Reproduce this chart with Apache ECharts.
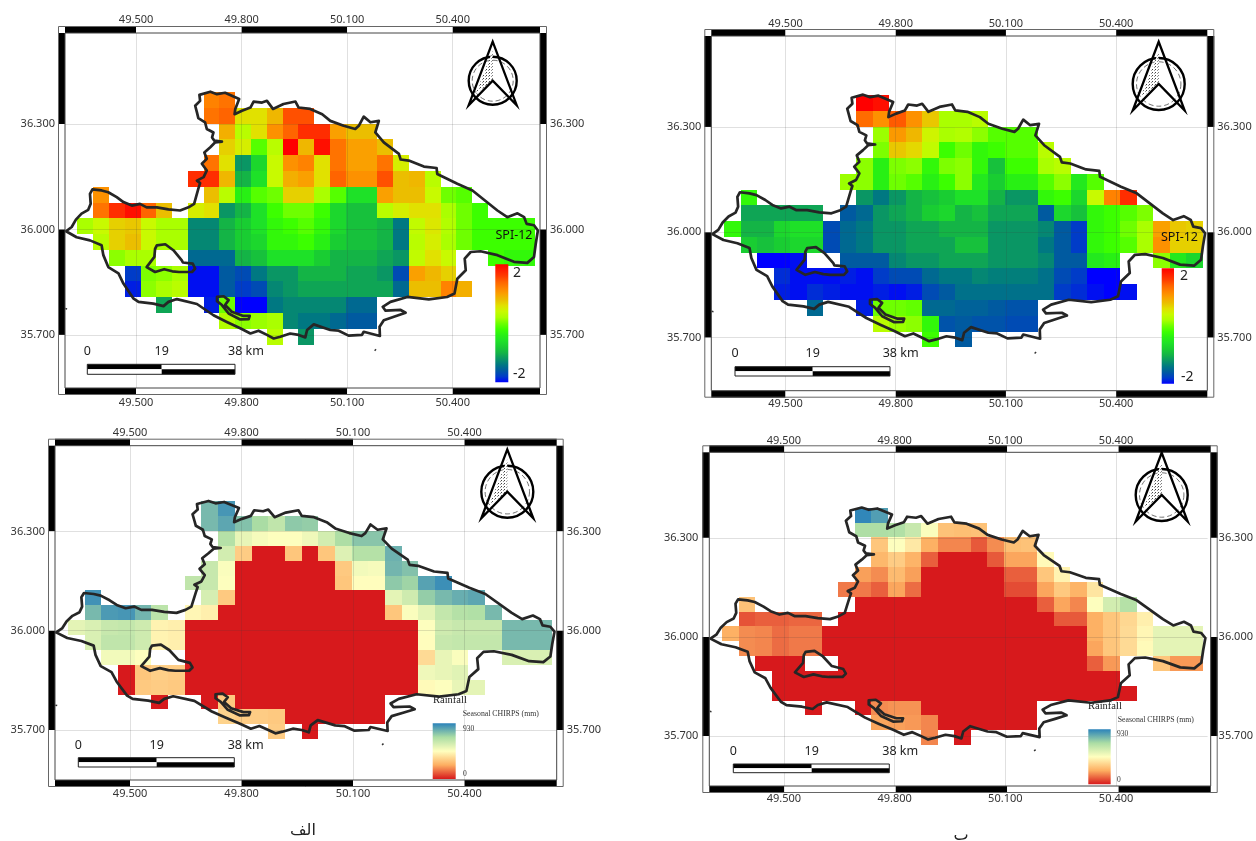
<!DOCTYPE html>
<html>
<head>
<meta charset="utf-8">
<style>html,body{margin:0;padding:0;background:#fff}#c{width:1256px;height:841px}</style>
<script src="https://cdn.jsdelivr.net/npm/echarts@6/dist/echarts.min.js"></script>
</head>
<body>
<div id="c"></div>
<script>
const _ = null;
const lonTicks = [49.5, 49.8, 50.1, 50.4];
const latTicks = [35.7, 36.0, 36.3];
// each row: first item = first column index, then values from west to east
const spiWet = [
[8,1.2,1.3],
[8,1.3,1.4,.6,.6,.85,1.5,1.5],
[9,.9,.3,.6,1.1,1.4,1.7,1.7,1,.8,.8],
[9,.7,.5,-.1,.3,2,.85,1.9,1.3,1,1,.8],
[8,1.3,.6,-1.2,-.7,.4,1.1,1.2,.6,1.3,1,1,1.3,.5],
[7,1.7,1.7,.85,-1,-.6,.4,.9,1,.6,1.4,1.1,1.1,1.5,.8,.85,.3],
[1,1.1,_,_,_,_,_,_,.8,.3,-.4,-.1,0,.7,.7,.2,-.1,-.6,-.6,1,.8,.8,.4,0,-.1],
[1,1.3,1.7,1.9,1.4,.8,_,.5,.6,-1.2,-1,-.6,-.2,0,0,-.2,-.7,-.9,-.9,.3,.5,.6,.6,.2,0,-.2],
[0,.2,.4,.7,.75,.4,.2,.2,-1.3,-1.3,-1,-.8,-.6,-.3,-.2,-.1,-.3,-.7,-.9,-.9,-1,-1.4,.35,.55,.25,0,-.2,-.2,-.2,-.2],
[1,.3,.7,.8,.4,.2,.2,-1.3,-1.3,-1,-.8,-.7,-.3,-.3,-.2,-.4,-.8,-.9,-.9,-1,-1.4,.3,.5,.2,0,-.2,-.2,-.2,-.2],
[2,.1,.2,.2,_,_,-1.5,-1.5,-1.5,-1,-.9,-.6,-.6,-.6,-.8,-1,-1,-1,-1.1,-1.2,.35,.6,.4,_,_,-.2,-.3,-.3],
[3,-1.8,.05,.1,.2,-1.95,-1.95,-1.6,-1.7,-1.4,-1.2,-1.2,-1,-1,-1,-1.1,-1.1,-1.2,-1.7,1,.85,.7],
[3,-1.9,.1,.2,.3,-1.95,-1.95,-1.6,-1.8,-1.7,-1.3,-1.2,-1.1,-1.1,-1.1,-1.1,-1.1,-1.1,-1.5,.8,.8,1.2,.9],
[5,-1.1,_,_,-1.9,0,-2,-2,-1.4,-1.3,-1.3,-1.3,-1.3,-1.5,-1.5],
[9,.25,.1,.15,.2,-1.3,-1.4,-1.4,-1.5,-1.6,-1.6],
[12,.3,_,-1.2]
];
const spiDry = [
[8,2,1.9],
[8,1.35,1.1,1.45,1.1,.75,.2,.2,.3],
[9,.15,1.05,.85,.45,.2,.25,.1,-.1,-.1,-.1],
[9,.05,.75,.65,.35,-.2,0,-.3,-.2,-.1,-.1,.3],
[8,.1,-.4,.05,.1,-.3,.05,.1,-.3,-.9,-.2,-.2,.2,.3],
[7,.15,.1,-.4,0,-.1,-.4,-.2,.1,-.5,-.8,-.4,-.4,-.1,.1,-.5,-.1],
[1,-.3,_,_,_,_,_,_,-1.2,-1.4,-1.2,-1,-.9,-.8,-.6,-.6,-1,-1.2,-1.2,-.3,-.2,-.7,.4,1.2,1.7],
[1,-1.1,-1.1,-1.1,-1.1,-1.1,_,-1.6,-1.5,-1.2,-1.1,-1,-.8,-.7,-1,-.9,-1.1,-1.1,-1.1,-1.6,-.7,-.9,-.3,-.2,-.1,.05],
[0,-.3,-1,-1,-.7,-.6,-.6,-1.7,-1.5,-1.4,-1.2,-1.2,-1.1,-1.1,-1,-1,-1,-1.2,-1.2,-1.2,-1.3,-1.6,-1.8,-.3,-.2,0,.2,1,.75,.7],
[1,-.8,-.9,-.8,-.7,-.7,-1.7,-1.5,-1.4,-1.2,-1.2,-1.1,-1.1,-1.1,-.9,-.9,-1.2,-1.2,-1.2,-1.4,-1.6,-1.8,-.3,-.2,-.1,.2,1.1,.7,.7],
[2,-2,-2,-1.95,_,_,-1.6,-1.6,-1.6,-1.3,-1.2,-1.2,-1.1,-1.1,-1.1,-1.2,-1.2,-1.2,-1.3,-1.6,-1.6,-.5,-.4,_,_,.1,-.5,-.7],
[3,-1.85,-1.95,-1.95,-1.95,-1.9,-1.95,-1.8,-1.7,-1.7,-1.5,-1.4,-1.4,-1.3,-1.35,-1.35,-1.35,-1.45,-1.7,-1.8,-2,-2],
[3,-1.9,-1.95,-1.85,-1.9,-1.95,-1.95,-1.9,-1.95,-1.9,-1.7,-1.6,-1.45,-1.45,-1.45,-1.45,-1.45,-1.45,-1.8,-1.85,-1.95,-2,-1.95],
[5,-1.5,_,_,-1.9,0,0,-.05,-1.5,-1.5,-1.55,-1.55,-1.6,-1.65,-1.65],
[9,.3,.15,.1,-.3,-1.65,-1.6,-1.65,-1.65,-1.7,-1.7],
[12,-.2,_,-1.6]
];
const rainWet = [
[8,790,880],
[8,790,840,770,700,640,750,740],
[9,670,530,490,470,470,510,590,690,760,760],
[9,590,320,0,0,300,0,300,560,670,670,810],
[8,620,480,0,0,0,0,0,0,310,500,490,800,770],
[7,640,620,470,0,0,0,0,0,0,300,460,460,750,720,850,900],
[1,890,_,_,_,_,_,_,580,310,0,0,0,0,0,0,0,0,0,540,600,740,790,820,840],
[1,790,870,880,800,650,_,440,420,0,0,0,0,0,0,0,0,0,0,300,480,540,630,670,680,790],
[0,540,570,620,630,600,430,420,0,0,0,0,0,0,0,0,0,0,0,0,0,0,470,600,620,620,620,790,790,790],
[1,570,640,640,600,430,420,0,0,0,0,0,0,0,0,0,0,0,0,0,0,460,620,630,630,630,790,790,790],
[2,500,500,470,_,_,0,0,0,0,0,0,0,0,0,0,0,0,0,0,360,530,480,_,_,570,570,570],
[3,0,300,330,320,0,0,0,0,0,0,0,0,0,0,0,0,0,0,510,530,550],
[3,0,310,320,310,0,0,0,0,0,0,0,0,0,0,0,0,0,0,450,470,530,540],
[5,0,_,_,0,310,0,0,0,0,0,0,0,0,0],
[9,340,320,320,310,0,0,0,0,0,0],
[12,320,_,0]
];
const rainDry = [
[8,920,860],
[8,690,690,680,620,480,290,280,290],
[9,300,470,400,240,170,170,100,180,280,290],
[9,260,320,250,110,0,0,0,100,220,220,450],
[8,210,180,270,210,0,0,0,0,0,110,110,300,430],
[7,150,150,110,220,130,0,0,0,0,0,80,80,220,310,250,390],
[1,290,_,_,_,_,_,_,0,0,0,0,0,0,0,0,0,0,0,110,220,170,470,590,670],
[1,90,110,110,120,120,_,0,0,0,0,0,0,0,0,0,0,0,0,0,100,100,240,300,350,420],
[0,240,180,170,130,150,150,0,0,0,0,0,0,0,0,0,0,0,0,0,0,0,0,240,300,360,440,540,540,540],
[1,180,170,130,150,150,0,0,0,0,0,0,0,0,0,0,0,0,0,0,0,0,220,300,360,450,540,540,540],
[2,0,0,0,_,_,0,0,0,0,0,0,0,0,0,0,0,0,0,0,0,110,200,_,_,300,200,200],
[3,0,0,0,0,0,0,0,0,0,0,0,0,0,0,0,0,0,0,0,0,0],
[3,0,0,0,0,0,0,0,0,0,0,0,0,0,0,0,0,0,0,0,0,0,0],
[5,0,_,_,0,180,190,190,0,0,0,0,0,0,0],
[9,220,210,200,170,0,0,0,0,0,0],
[12,170,_,0]
];
const coast = [[49.301,35.995],[49.317,36.007],[49.329,36.028],[49.345,36.045],[49.364,36.056],[49.371,36.073],[49.369,36.101],[49.376,36.114],[49.402,36.111],[49.421,36.106],[49.445,36.092],[49.464,36.078],[49.488,36.068],[49.511,36.073],[49.530,36.063],[49.559,36.063],[49.592,36.057],[49.625,36.054],[49.649,36.063],[49.665,36.073],[49.677,36.116],[49.682,36.132],[49.673,36.139],[49.692,36.149],[49.701,36.168],[49.687,36.187],[49.701,36.201],[49.694,36.219],[49.711,36.234],[49.725,36.248],[49.744,36.250],[49.722,36.253],[49.716,36.262],[49.720,36.276],[49.701,36.286],[49.696,36.305],[49.677,36.317],[49.673,36.333],[49.668,36.352],[49.682,36.366],[49.680,36.383],[49.711,36.392],[49.730,36.385],[49.753,36.389],[49.793,36.371],[49.782,36.343],[49.780,36.328],[49.801,36.338],[49.825,36.347],[49.834,36.364],[49.858,36.361],[49.872,36.366],[49.889,36.343],[49.919,36.357],[49.953,36.364],[49.962,36.347],[49.995,36.343],[50.029,36.328],[50.052,36.309],[50.090,36.295],[50.123,36.286],[50.133,36.295],[50.147,36.321],[50.166,36.305],[50.190,36.309],[50.180,36.276],[50.204,36.248],[50.247,36.215],[50.252,36.199],[50.275,36.196],[50.318,36.179],[50.354,36.175],[50.356,36.158],[50.413,36.130],[50.456,36.111],[50.527,36.054],[50.555,36.035],[50.584,36.046],[50.603,36.035],[50.610,36.016],[50.631,36.012],[50.642,35.997],[50.636,35.960],[50.631,35.922],[50.612,35.905],[50.574,35.908],[50.527,35.927],[50.479,35.938],[50.451,35.936],[50.434,35.917],[50.437,35.884],[50.413,35.860],[50.405,35.818],[50.384,35.808],[50.332,35.801],[50.271,35.808],[50.223,35.794],[50.201,35.780],[50.209,35.769],[50.252,35.771],[50.266,35.763],[50.237,35.753],[50.204,35.742],[50.192,35.723],[50.193,35.697],[50.147,35.709],[50.142,35.700],[50.104,35.698],[50.076,35.712],[50.052,35.714],[50.005,35.730],[49.986,35.714],[49.981,35.693],[49.962,35.700],[49.938,35.704],[49.910,35.695],[49.891,35.690],[49.872,35.700],[49.848,35.712],[49.825,35.704],[49.796,35.719],[49.758,35.737],[49.720,35.756],[49.673,35.788],[49.616,35.802],[49.592,35.794],[49.578,35.782],[49.549,35.789],[49.507,35.794],[49.492,35.804],[49.464,35.846],[49.450,35.875],[49.421,35.893],[49.407,35.927],[49.402,35.955],[49.369,35.969],[49.331,35.978],[49.301,35.995]];
const lake = [[49.559,35.955],[49.583,35.958],[49.606,35.941],[49.630,35.912],[49.633,35.906],[49.661,35.903],[49.668,35.889],[49.659,35.879],[49.622,35.879],[49.603,35.881],[49.580,35.887],[49.554,35.879],[49.530,35.893],[49.552,35.922],[49.554,35.945],[49.559,35.955]];
const lagoon = [[49.730,35.808],[49.749,35.810],[49.763,35.799],[49.753,35.785],[49.772,35.766],[49.805,35.754],[49.823,35.754],[49.820,35.745],[49.796,35.744],[49.763,35.761],[49.744,35.785],[49.730,35.796],[49.730,35.808]];
const islet = [[50.178,35.655],[50.182,35.659]];
const westMark = [[49.299,35.775],[49.304,35.774]];

const spiLabels = ['2', '-2'];
const rainLabels = ['930', '0'];
const spiColors = ['#0000ff','#003cc8','#005aa0','#007882','#0a9664','#14b446','#19cd32','#1ee128','#28f014','#3cff00','#6eff00','#aaff00','#c8fa00','#e1e100','#ebbe00','#faa000','#ff8200','#ff6400','#ff3c00','#ff1e00','#ff0000'];
const rainColors = ['#d7191c','#fdae61','#ffffbf','#abdda4','#2b83ba'];

const LON0 = 49.333, LAT0 = 36.391, CELL = 0.0449;
const LON_MIN = 49.298, LON_MAX = 50.648, LAT_MIN = 35.549, LAT_MAX = 36.559;
const FONT = '"Noto Sans", sans-serif';

const panels = [
 {rows: spiWet, kind:'spi', l:65, t:33, r:540, b:388, tm:8, bm:9, sm:10,
  arrow:[492.7,80.7,24], bar:[87.3,161.7,235,364.3,374.3], barY:351, kmX:228,
  leg:[495.3,264.3,508.3,382.3], lab:[[513,272.7],[513,374]], spi:[495.5,235]},
 {rows: spiDry, kind:'spi', l:711.3, t:36, r:1207.3, b:390.7, tm:7, bm:8, sm:10,
  arrow:[1158.7,84,26], bar:[735,812.7,890,366.7,376], barY:353, kmX:882.7,
  leg:[1161.7,268.3,1174,383.7], lab:[[1180,276],[1181,376.7]], spi:[1161,237.7]},
 {rows: rainWet, kind:'rain', l:55, t:445.7, r:556.7, b:780, tm:7, bm:8, sm:10,
  arrow:[507.3,491.7,26], bar:[78.3,156.7,234.3,757.7,767], barY:745, kmX:227.7,
  leg:[432.7,723.3,455.7,779], lab:[[463,729],[463,774]], title:[433,700.7,462.7,714.3]},
 {rows: rainDry, kind:'rain', l:709.3, t:452.3, r:1210.7, b:786, tm:6, bm:7, sm:11,
  arrow:[1161.7,495,26], bar:[733.3,811.7,889.3,764,772.7], barY:751, kmX:882.3,
  leg:[1088.3,729.3,1110.7,784.3], lab:[[1117,734],[1117,780]], title:[1088,706.7,1117.7,720]}
];

function cells(rows){
  const out = [];
  rows.forEach((row, r) => {
    row.slice(1).forEach((v, i) => {
      if (v !== null) out.push([LON0 + (row[0] + i) * CELL, LAT0 - r * CELL, v]);
    });
  });
  return out;
}
function renderCell(params, api){
  const a = api.coord([api.value(0), api.value(1)]);
  const b = api.coord([api.value(0) + CELL, api.value(1) - CELL]);
  const x0 = Math.round(a[0]), y0 = Math.round(a[1]), x1 = Math.round(b[0]), y1 = Math.round(b[1]);
  return {type:'rect', shape:{x:x0, y:y0, width:x1-x0, height:y1-y0},
          style:{fill:api.visual('color')}};
}

const grids=[], xAxes=[], yAxes=[], series=[], graphics=[];
const spiIdx=[], rainIdx=[];
const fmt = v => Number(v).toFixed(3);

const dot = document.createElement('canvas');
dot.width = 3; dot.height = 3;
(function(){const c=dot.getContext('2d');c.fillStyle='#fff';c.fillRect(0,0,3,3);c.fillStyle='#444';c.fillRect(0,0,1,1);c.fillStyle='#999';c.fillRect(2,1,1,1);})();

function rect(x0,y0,x1,y1,fill,stroke){
  graphics.push({type:'rect', z:100, silent:true, shape:{x:x0,y:y0,width:x1-x0,height:y1-y0},
    style:{fill:fill||'transparent', stroke:stroke||null, lineWidth:stroke?1:0}});
}
function text(x,y,s,size,opt){
  opt = opt||{};
  graphics.push({type:'text', z:101, silent:true, x:x, y:y,
    style:Object.assign({text:s, fontSize:size, fontFamily:FONT, fill:'#222', textAlign:'left', textVerticalAlign:'middle'}, opt)});
}
function frame(p){
  const B = 7;
  const X = v => p.l + (v-LON_MIN)/(LON_MAX-LON_MIN)*(p.r-p.l);
  const Y = v => p.b - (v-LAT_MIN)/(LAT_MAX-LAT_MIN)*(p.b-p.t);
  const xs=[p.l].concat(lonTicks.map(X),[p.r]);
  const ys=[p.t].concat(latTicks.slice().reverse().map(Y),[p.b]);
  for(let i=0;i<xs.length-1;i++){
    const f = i%2===0 ? '#000':'#fff';
    rect(xs[i],p.t-B,xs[i+1],p.t,f);
    rect(xs[i],p.b,xs[i+1],p.b+B,f);
  }
  for(let i=0;i<ys.length-1;i++){
    const f = i%2===0 ? '#000':'#fff';
    rect(p.l-B,ys[i],p.l,ys[i+1],f);
    rect(p.r,ys[i],p.r+B,ys[i+1],f);
  }
  rect(p.l-B+.5,p.t-B+.5,p.r+B-.5,p.b+B-.5,null,'#666');
  rect(p.l,p.t,p.r,p.b,null,'#444');
}
function arrow(a){
  const cx=a[0], cy=a[1], s=a[2]/24;
  graphics.push({type:'circle', z:100, silent:true, shape:{cx,cy,r:24*s}, style:{fill:'#fff',stroke:'#000',lineWidth:2.4}});
  graphics.push({type:'circle', z:100, silent:true, shape:{cx,cy,r:20.5*s}, style:{fill:'none',stroke:'#333',lineWidth:.7,lineDash:[5,3]}});
  const tip=[cx,cy-39*s], lf=[cx-24*s,cy+24.5*s], rf=[cx+24*s,cy+24.5*s], n=[cx,cy];
  graphics.push({type:'polygon', z:101, silent:true, shape:{points:[[cx,cy-30*s],[cx-17*s,cy+13*s],n]}, style:{fill:{image:dot,repeat:'repeat'}}});
  graphics.push({type:'polygon', z:102, silent:true, shape:{points:[tip,lf,n,rf]}, style:{fill:'transparent',stroke:'#000',lineWidth:2.3,lineJoin:'miter'}});
}
function scaleBar(p){
  const b=p.bar;
  const mid=(b[3]+b[4])/2;
  rect(b[0],b[3],b[1],mid,'#000'); rect(b[1],b[3],b[2],mid,'#fff');
  rect(b[0],mid,b[1],b[4],'#fff'); rect(b[1],mid,b[2],b[4],'#000');
  rect(b[0],b[3],b[2],b[4],null,'#222');
  text(b[0],p.barY,'0',12.5,{textAlign:'center'});
  text(b[1],p.barY,'19',12.5,{textAlign:'center'});
  text(p.kmX,p.barY,'38 km',12.5);
}
function legend(p){
  const g=p.leg, cols=p.kind==='spi'?spiColors:rainColors;
  const n=cols.length-1;
  graphics.push({type:'rect', z:100, silent:true, shape:{x:g[0],y:g[1],width:g[2]-g[0],height:g[3]-g[1]},
    style:{fill:{type:'linear',x:0,y:1,x2:0,y2:0,colorStops:cols.map((c,i)=>({offset:i/n,color:c}))}}});
  const labs=p.kind==='spi'?spiLabels:rainLabels;
  if(p.kind==='spi'){
    text(p.lab[0][0],p.lab[0][1],labs[0],14);
    text(p.lab[1][0],p.lab[1][1],labs[1],14);
    text(p.spi[0],p.spi[1],'SPI-12',12.5,{fill:'#111'});
  }else{
    const ser={fontFamily:'"Liberation Serif", serif',fill:'#333'};
    text(p.lab[0][0],p.lab[0][1],labs[0],7.5,ser);
    text(p.lab[1][0],p.lab[1][1],labs[1],7.5,ser);
    text(p.title[0],p.title[1],'Rainfall',10.5,{fontFamily:'"Liberation Serif", serif',fill:'#222'});
    text(p.title[2],p.title[3],'Seasonal CHIRPS (mm)',7.8,ser);
  }
}

panels.forEach((p,i)=>{
  grids.push({left:p.l, top:p.t, width:p.r-p.l, height:p.b-p.t, containLabel:false});
  const lab=(m)=>({show:true, fontFamily:FONT, fontSize:11, color:'#333', margin:m, formatter:fmt});
  const xi=xAxes.length, yi=yAxes.length;
  xAxes.push({type:'value',gridIndex:i,position:'bottom',min:LON_MIN,max:LON_MAX,z:3,
    axisLine:{show:false},axisTick:{show:false,customValues:lonTicks},
    axisLabel:Object.assign(lab(p.bm),{customValues:lonTicks}),
    splitLine:{show:true,lineStyle:{color:'rgba(60,60,60,0.16)',width:1}}});
  xAxes.push({type:'value',gridIndex:i,position:'top',min:LON_MIN,max:LON_MAX,
    axisLine:{show:false},axisTick:{show:false,customValues:lonTicks},
    axisLabel:Object.assign(lab(p.tm),{customValues:lonTicks}),splitLine:{show:false}});
  yAxes.push({type:'value',gridIndex:i,position:'left',min:LAT_MIN,max:LAT_MAX,z:3,
    axisLine:{show:false},axisTick:{show:false,customValues:latTicks},
    axisLabel:Object.assign(lab(p.sm),{customValues:latTicks}),
    splitLine:{show:true,lineStyle:{color:'rgba(60,60,60,0.16)',width:1}}});
  yAxes.push({type:'value',gridIndex:i,position:'right',min:LAT_MIN,max:LAT_MAX,
    axisLine:{show:false},axisTick:{show:false,customValues:latTicks},
    axisLabel:Object.assign(lab(p.sm),{customValues:latTicks}),splitLine:{show:false}});
  (p.kind==='spi'?spiIdx:rainIdx).push(series.length);
  series.push({type:'custom',xAxisIndex:xi,yAxisIndex:yi,z:2,silent:true,animation:false,
    encode:{x:0,y:1},data:cells(p.rows),renderItem:renderCell});
  [coast,lake,lagoon].forEach(ring=>{
    series.push({type:'line',xAxisIndex:xi,yAxisIndex:yi,z:5,silent:true,animation:false,
      showSymbol:false,symbol:'none',data:ring,lineStyle:{color:'#262626',width:2.7,cap:'round',join:'round'}});
  });
  [islet,westMark].forEach(seg=>{
    series.push({type:'line',xAxisIndex:xi,yAxisIndex:yi,z:5,silent:true,animation:false,
      showSymbol:false,symbol:'none',data:seg,lineStyle:{color:'#333',width:1.5}});
  });
  frame(p); arrow(p.arrow); scaleBar(p); legend(p);
});

const arabic={fontFamily:'"DejaVu Sans", sans-serif',fill:'#222',textAlign:'center'};
text(303,831,'الف',16,arabic);
text(961,836,'ب',16,arabic);

const chart=echarts.init(document.getElementById('c'),null,{renderer:'canvas'});
chart.setOption({
  animation:false, backgroundColor:'#fff',
  grid:grids, xAxis:xAxes, yAxis:yAxes, series:series,
  visualMap:[
    {type:'continuous',show:false,min:-2,max:2,dimension:2,seriesIndex:spiIdx,inRange:{color:spiColors}},
    {type:'continuous',show:false,min:0,max:930,dimension:2,seriesIndex:rainIdx,inRange:{color:rainColors}}
  ],
  graphic:{elements:graphics}
});
</script>
</body>
</html>
